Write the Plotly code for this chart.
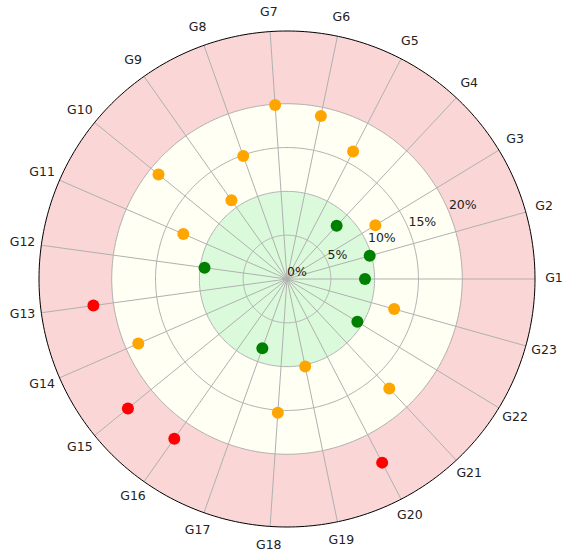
import numpy as np
import plotly.graph_objects as go

# ---- data ----
categories = ["G1", "G2", "G3", "G4", "G5", "G6", "G7", "G8", "G9", "G10", "G11", "G12",
              "G13", "G14", "G15", "G16", "G17", "G18", "G19", "G20", "G21", "G22", "G23"]
values = [8.9, 9.8, 11.8, 8.3, 16.4, 19.0, 19.9, 14.9, 11.0, 18.9, 12.9, 9.5,
          22.3, 18.5, 23.4, 22.3, 8.4, 15.3, 10.2, 23.6, 17.1, 9.4, 12.7]
radial_ticks = [0, 5, 10, 15, 20]
radial_tick_labels = ["0%", "5%", "10%", "15%", "20%"]
band_edges = [0, 10, 20, 28.3]
band_colors = ["rgba(144,238,144,0.32)", "rgba(255,255,224,0.35)", "rgba(240,128,128,0.32)"]
point_colors_by_band = ["green", "orange", "red"]

r_max = band_edges[-1]
R_px = 248          # pixel radius of the outer circle
R_dom_px = 268      # pixel radius of the polar area (room for the labels)
r_range = r_max * R_dom_px / R_px
label_r = r_max * 267 / R_px

n = len(categories)
theta = [i * 360.0 / n for i in range(n)]


def band_of(v):
    if v < band_edges[1]:
        return 0
    if v <= band_edges[2]:
        return 1
    return 2


marker_colors = [point_colors_by_band[band_of(v)] for v in values]
FONT = dict(family="DejaVu Sans", size=12.5, color="#222222")
GRID = "#b0b0b0"
circle_theta = np.linspace(0, 360, 361)

fig = go.Figure()

# background bands
fig.add_trace(go.Barpolar(
    r=[band_edges[i + 1] - band_edges[i] for i in range(3)],
    base=band_edges[:3],
    theta=[0, 0, 0],
    width=[360, 360, 360],
    marker=dict(color=band_colors, line=dict(width=0)),
    hoverinfo="skip",
    showlegend=False,
))

# radial grid circles (above the bands, as in the original)
for t in radial_ticks[1:]:
    fig.add_trace(go.Scatterpolar(
        r=[t] * len(circle_theta), theta=circle_theta, mode="lines",
        line=dict(color=GRID, width=1), hoverinfo="skip", showlegend=False,
    ))

# angular grid spokes
spoke_r, spoke_t = [], []
for th in theta:
    spoke_r += [0, r_max, None]
    spoke_t += [th, th, None]
fig.add_trace(go.Scatterpolar(
    r=spoke_r, theta=spoke_t, mode="lines",
    line=dict(color=GRID, width=1), hoverinfo="skip", showlegend=False,
))

# outer circle (spine)
fig.add_trace(go.Scatterpolar(
    r=[r_max] * len(circle_theta), theta=circle_theta, mode="lines",
    line=dict(color="black", width=1), hoverinfo="skip", showlegend=False,
))

# points
fig.add_trace(go.Scatterpolar(
    r=values,
    theta=theta,
    mode="markers",
    marker=dict(size=12, color=marker_colors, line=dict(width=0)),
    showlegend=False,
))

# radial tick labels along 22.5 degrees
fig.add_trace(go.Scatterpolar(
    r=radial_ticks,
    theta=[22.5] * len(radial_ticks),
    mode="text",
    text=radial_tick_labels,
    textposition="top right",
    textfont=FONT,
    hoverinfo="skip",
    showlegend=False,
))

# category labels, centred just outside the outer circle
fig.add_trace(go.Scatterpolar(
    r=[label_r] * n,
    theta=theta,
    mode="text",
    text=categories,
    textposition="middle center",
    textfont=FONT,
    cliponaxis=False,
    hoverinfo="skip",
    showlegend=False,
))

W, H = 563, 555
cx, cy = 287, 279
fig.update_layout(
    width=W, height=H, autosize=False,
    margin=dict(l=0, r=0, t=0, b=0),
    paper_bgcolor="white",
    font=FONT,
    barmode="overlay",
    polar=dict(
        domain=dict(x=[(cx - R_dom_px) / W, (cx + R_dom_px) / W],
                    y=[(H - cy - R_dom_px) / H, (H - cy + R_dom_px) / H]),
        bgcolor="rgba(0,0,0,0)",
        radialaxis=dict(
            range=[0, r_range],
            showgrid=False,
            showticklabels=False,
            ticks="",
            showline=False,
        ),
        angularaxis=dict(
            direction="counterclockwise",
            rotation=0,
            showgrid=False,
            showticklabels=False,
            ticks="",
            showline=False,
        ),
    ),
)

fig.write_html("out.html", config={"displayModeBar": False},
               post_script="document.body.style.margin='0px';")
